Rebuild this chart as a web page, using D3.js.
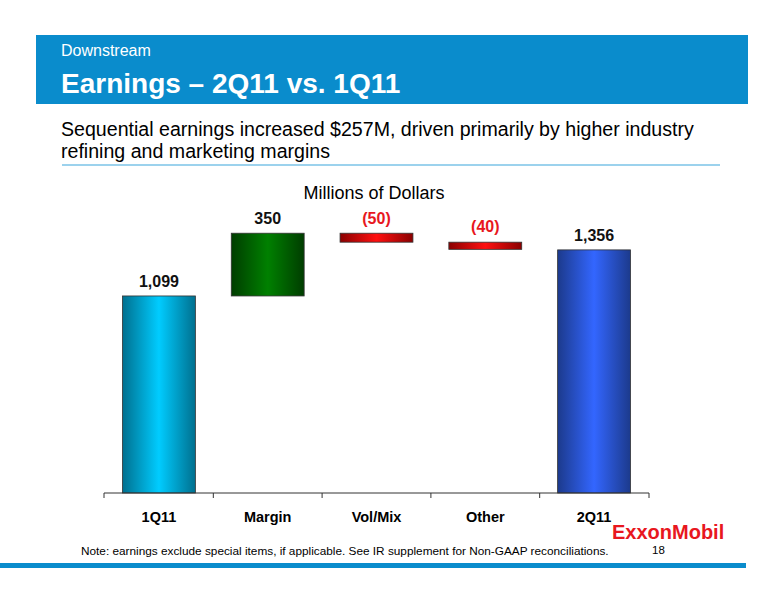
<!DOCTYPE html>
<html><head><meta charset="utf-8">
<script src="https://cdn.jsdelivr.net/npm/d3@7"></script>
<style>body{margin:0;background:#fff}svg{font-family:"Liberation Sans",Arial,sans-serif}</style>
</head><body><svg id="c" width="776" height="600"></svg>
<script>
const categories = ['1Q11', 'Margin', 'Vol/Mix', 'Other', '2Q11'];
const deltas = [1099, 350, -50, -40, 1356];
const kinds = ['total', 'delta', 'delta', 'delta', 'total'];
const labels = ['1,099', '350', '(50)', '(40)', '1,356'];

const svg = d3.select('#c');
const defs = svg.append('defs');
function grad(id, edge, mid) {
  const g = defs.append('linearGradient').attr('id', id).attr('x1', 0).attr('x2', 1);
  g.append('stop').attr('offset', '0%').attr('stop-color', edge);
  g.append('stop').attr('offset', '50%').attr('stop-color', mid);
  g.append('stop').attr('offset', '100%').attr('stop-color', edge);
}
grad('g0', '#00708f', '#00ccff');
grad('g1', '#003d00', '#008000');
grad('g2', '#8a0000', '#ff1010');
grad('g4', '#1c3a8c', '#3366ff');
const fills = ['url(#g0)', 'url(#g1)', 'url(#g2)', 'url(#g2)', 'url(#g4)'];

// header
svg.append('rect').attr('x', 36).attr('y', 35).attr('width', 712).attr('height', 69).attr('fill', '#0a8ccc');
svg.append('text').attr('x', 61).attr('y', 56).attr('fill', '#fff').attr('font-size', 16).text('Downstream');
svg.append('text').attr('x', 61).attr('y', 93).attr('fill', '#fff').attr('font-size', 28).attr('font-weight', 'bold').text('Earnings – 2Q11 vs. 1Q11');
svg.append('text').attr('x', 61).attr('y', 136).attr('font-size', 19.6).text('Sequential earnings increased $257M, driven primarily by higher industry');
svg.append('text').attr('x', 61).attr('y', 158).attr('font-size', 19.6).text('refining and marketing margins');
svg.append('line').attr('x1', 62).attr('x2', 720).attr('y1', 165).attr('y2', 165).attr('stroke', '#3ba6dc').attr('stroke-width', 1.2);
svg.append('text').attr('x', 374).attr('y', 199).attr('text-anchor', 'middle').attr('font-size', 18).text('Millions of Dollars');

const x = d3.scaleBand().domain(categories).range([104, 649]).paddingInner(0.33).paddingOuter(0.17);
const y = d3.scaleLinear().domain([0, 1400]).range([493, 242]);

let run = 0;
const bars = categories.map((c, i) => {
  let lo, hi;
  if (kinds[i] === 'total') { lo = 0; hi = deltas[i]; run = deltas[i]; }
  else { const s = run; run += deltas[i]; lo = Math.min(s, run); hi = Math.max(s, run); }
  return { c, lo, hi, i };
});

svg.selectAll('rect.bar').data(bars).join('rect').attr('class', 'bar')
  .attr('x', d => x(d.c)).attr('width', x.bandwidth())
  .attr('y', d => y(d.hi)).attr('height', d => y(d.lo) - y(d.hi))
  .attr('fill', d => fills[d.i]).attr('stroke', '#333').attr('stroke-width', 0.8);

svg.selectAll('text.lbl').data(bars).join('text').attr('class', 'lbl')
  .attr('x', d => x(d.c) + x.bandwidth() / 2).attr('y', d => y(d.hi) - (d.i === 3 ? 10 : 9))
  .attr('text-anchor', 'middle').attr('font-size', 16).attr('font-weight', 'bold')
  .attr('fill', d => deltas[d.i] < 0 ? '#e8171e' : '#111').text(d => labels[d.i]);

const ax = svg.append('g').attr('transform', 'translate(0,493)');
ax.append('line').attr('x1', 104).attr('x2', 649).attr('stroke', '#333');
const edges = [104].concat(categories.map(c => x(c) + x.bandwidth() + x.step() * 0.33 / 2));
edges[edges.length - 1] = 649;
ax.selectAll('line.t').data(edges).join('line').attr('class', 't')
  .attr('x1', d => d).attr('x2', d => d).attr('y1', 0).attr('y2', 5).attr('stroke', '#333');
ax.selectAll('text').data(categories).join('text')
  .attr('x', d => x(d) + x.bandwidth() / 2).attr('y', 29).attr('text-anchor', 'middle')
  .attr('font-size', 14.5).attr('font-weight', 'bold').text(d => d);

svg.append('text').attr('x', 612).attr('y', 539).attr('fill', '#e8171e').attr('font-size', 20).attr('font-weight', 'bold').text('ExxonMobil');
svg.append('text').attr('x', 81).attr('y', 555).attr('font-size', 11.8).text('Note: earnings exclude special items, if applicable. See IR supplement for Non-GAAP reconciliations.');
svg.append('text').attr('x', 652).attr('y', 554).attr('font-size', 11.5).text('18');
svg.append('rect').attr('x', 0).attr('y', 563).attr('width', 746).attr('height', 5).attr('fill', '#0a8ccc');
</script></body></html>
